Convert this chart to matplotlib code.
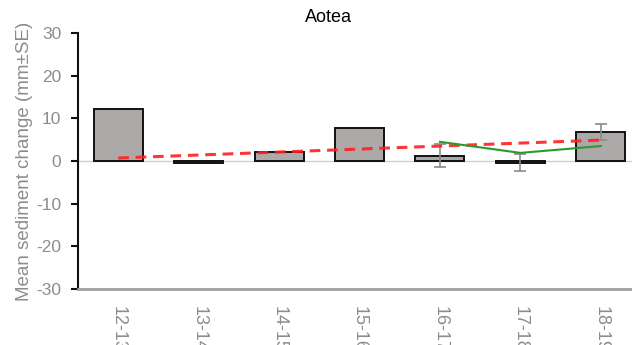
import matplotlib
matplotlib.use("Agg")
import matplotlib.pyplot as plt
import numpy as np

plt.rcParams['font.family'] = ['Liberation Sans', 'DejaVu Sans']
plt.rcParams['axes.unicode_minus'] = False

# Survey periods and mean sediment change (mm)
periods = ["12-13", "13-14", "14-15", "15-16", "16-17", "17-18", "18-19"]
mean_change = [12.3, -0.4, 2.1, 7.7, 1.2, -0.4, 6.8]
std_err = [np.nan, np.nan, np.nan, np.nan, 2.7, 2.0, 1.9]

# Long-term trend (red dashed) and recent-period line (green)
trend = [0.7, 1.4, 2.1, 2.8, 3.5, 4.2, 4.9]
recent_periods = ["16-17", "17-18", "18-19"]
recent_values = [4.5, 1.9, 3.5]

yticks = [-30, -20, -10, 0, 10, 20, 30]
label_grey = "#8c8c8c"

fig = plt.figure(figsize=(6.32, 3.45), dpi=100)
ax = fig.add_axes([78 / 632, 1 - 289 / 345, (641 - 78) / 632, (289 - 33) / 345])

x = np.arange(len(periods))
ax.axhline(0, color="#d0d0d0", lw=1.0, zorder=1, clip_on=False)
ax.bar(x, mean_change, width=0.61, color="#ada9a9", edgecolor="#111111",
       linewidth=1.4, zorder=2)
ax.errorbar(x, mean_change, yerr=std_err, fmt="none", ecolor="#8a8a8a",
            elinewidth=1.2, capsize=4, capthick=1.2, zorder=3)

ax.plot(x, trend, color="#ff2020", lw=2.2, dashes=(3.5, 2.2), alpha=0.9, zorder=4)
rx = [periods.index(p) for p in recent_periods]
ax.plot(rx, recent_values, color="#2a9a2a", lw=1.5, zorder=5)

ax.set_xlim(-0.5, len(periods) - 0.5)
ax.set_ylim(-30, 30)
ax.set_yticks(yticks)
ax.set_xticks(x)
ax.set_xticklabels(periods, rotation=270, fontsize=13, color=label_grey,
                   va="top", ha="center")
ax.tick_params(axis="x", length=0, pad=12)
ax.tick_params(axis="y", direction="out", length=5, width=1.5, color="#111111",
               labelsize=12.5, labelcolor=label_grey, pad=7)

for s in ("top", "right"):
    ax.spines[s].set_visible(False)
ax.spines["left"].set_color("#111111")
ax.spines["left"].set_linewidth(1.5)
ax.spines["bottom"].set_color("#a0a0a0")
ax.spines["bottom"].set_linewidth(2.0)

ax.set_ylabel("Mean sediment change (mm\u00b1SE)", fontsize=13.5, color=label_grey,
              labelpad=2)
fig.text(328 / 632, 1 - 17 / 345, "Aotea", fontsize=13, color="black",
         ha="center", va="center")

fig.savefig("out.png", dpi=100)
